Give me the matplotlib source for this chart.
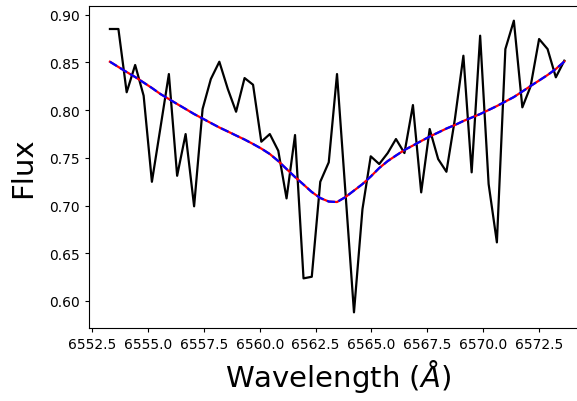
import matplotlib
matplotlib.use("Agg")
import matplotlib.pyplot as plt

# spectrum around H-alpha, observed flux and fitted profile
wavelength = [6553.29, 6553.67, 6554.04, 6554.42, 6554.80, 6555.17, 6555.55,
              6555.93, 6556.30, 6556.68, 6557.06, 6557.44, 6557.81, 6558.19,
              6558.57, 6558.94, 6559.32, 6559.70, 6560.07, 6560.45, 6560.83,
              6561.20, 6561.58, 6561.96, 6562.33, 6562.71, 6563.09, 6563.46,
              6563.84, 6564.22, 6564.60, 6564.97, 6565.35, 6565.73, 6566.10,
              6566.48, 6566.86, 6567.23, 6567.61, 6567.99, 6568.36, 6568.74,
              6569.12, 6569.49, 6569.87, 6570.25, 6570.62, 6571.00, 6571.38,
              6571.76, 6572.13, 6572.51, 6572.89, 6573.26, 6573.64]

flux = [0.885, 0.885, 0.8187, 0.8473, 0.8151, 0.7249, 0.7812, 0.8378, 0.7312,
        0.7749, 0.6992, 0.8012, 0.8326, 0.8507, 0.8221, 0.7983, 0.8336, 0.8266,
        0.7669, 0.7749, 0.7574, 0.7075, 0.7739, 0.6237, 0.6254, 0.7249, 0.7453,
        0.8378, 0.7131, 0.5881, 0.6963, 0.7516, 0.7435, 0.7550, 0.7697, 0.7550,
        0.8053, 0.7138, 0.7802, 0.7487, 0.7354, 0.7907, 0.8570, 0.7348, 0.8780,
        0.7225, 0.6614, 0.8640, 0.8937, 0.8029, 0.8249, 0.8745, 0.8640, 0.8344,
        0.8518]

fit = [0.8507, 0.8452, 0.8399, 0.8347, 0.8289, 0.8232, 0.8169, 0.8116, 0.8064,
       0.8012, 0.7959, 0.7912, 0.7865, 0.7818, 0.7776, 0.7734, 0.7692, 0.7645,
       0.7597, 0.7540, 0.7466, 0.7383, 0.7299, 0.7220, 0.7142, 0.7079, 0.7042,
       0.7037, 0.7089, 0.7157, 0.7225, 0.7304, 0.7393, 0.7466, 0.7524, 0.7582,
       0.7629, 0.7676, 0.7723, 0.7765, 0.7807, 0.7844, 0.7886, 0.7922, 0.7959,
       0.8001, 0.8043, 0.8090, 0.8137, 0.8195, 0.8253, 0.8310, 0.8368, 0.8431,
       0.8509]

fig = plt.figure(figsize=(5.77, 4.02), dpi=100)
# right part of the frame is cut off in the original picture
ax = fig.add_axes([0.1551, 0.1816, 0.8624, 0.8017])

ax.plot(wavelength, flux, color="k", lw=1.6)
ax.plot(wavelength, fit, color="r", lw=1.6)
ax.plot(wavelength, fit, "b--", lw=1.6)

ax.set_xlim(6552.375, 6574.66)
ax.set_ylim(0.5717, 0.9094)
ax.set_xticks([6552.5, 6555.0, 6557.5, 6560.0, 6562.5, 6565.0, 6567.5,
               6570.0, 6572.5])
ax.set_yticks([0.60, 0.65, 0.70, 0.75, 0.80, 0.85, 0.90])
ax.tick_params(labelsize=10, length=3.2)

ax.set_xlabel(r"Wavelength ($\AA$)", fontsize=21)
ax.set_ylabel("Flux", fontsize=21, labelpad=9)

fig.savefig("out.png", dpi=100)
